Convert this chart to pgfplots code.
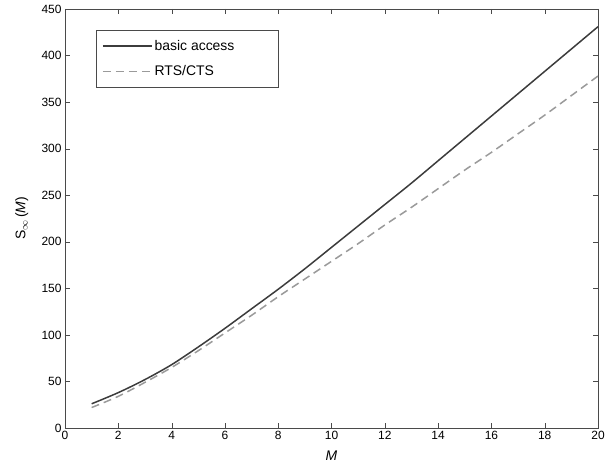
\documentclass[border=0pt]{standalone}
\usepackage{pgfplots}
\pgfplotsset{compat=1.18}
\usepackage{fontspec}
\setmainfont{Liberation Sans}
\definecolor{basic}{HTML}{3C3C3C}
\definecolor{rts}{HTML}{9A9A9A}
\definecolor{axc}{HTML}{4A4A4A}
\begin{document}
\begin{tikzpicture}
\begin{axis}[
  width=533bp, height=419bp, scale only axis,
  xmin=0, xmax=20, ymin=0, ymax=450,
  xtick={0,2,...,20}, ytick={0,50,...,450},
  tick align=inside, major tick length=5bp,
  axis line style={axc}, tick style={axc},
  tick label style={font=\fontsize{12}{14}\selectfont},
  label style={font=\fontsize{14}{16}\selectfont},
  /pgf/number format/assume math mode=true,
  xlabel={\textit{M}}, ylabel={S$_{\infty}$\,(\textit{M})},
  xlabel style={at={(axis description cs:0.5,-0.066)}, anchor=center},
  ylabel style={at={(axis description cs:-0.081,0.5)}, anchor=center},
  legend style={at={(0.058,0.95)}, anchor=north west, draw=axc, fill=white,
    font=\fontsize{14}{16}\selectfont, row sep=10bp, inner xsep=6bp, inner ysep=8bp},
  legend cell align=left,
  legend image code/.code={\draw[#1] (0bp,0bp) -- (49bp,0bp);},
]
\addplot[basic, line width=1.5bp, smooth] coordinates {
(1,26) (2,38) (3,52) (4,68) (5,87) (6,107) (7,128) (8,149) (9,171) (10,194)
(11,217) (12,240) (13,263) (14,287) (15,311) (16,335) (17,359) (18,383) (19,407) (20,431)
};
\addlegendentry{\makebox[116bp][l]{basic access}}
\addplot[rts, line width=1.5bp, dash pattern=on 8bp off 5bp, smooth] coordinates {
(1,22) (2,34) (3,49) (4,65) (5,83) (6,102) (7,121) (8,141) (9,160) (10,179)
(11,198) (12,218) (13,237) (14,257) (15,277) (16,296) (17,316) (18,336) (19,357) (20,378)
};
\addlegendentry{\makebox[116bp][l]{RTS/CTS}}
\coordinate (sw) at (rel axis cs:0,0);
\coordinate (ne) at (rel axis cs:1,1);
\end{axis}
\pgfresetboundingbox
\path ([shift={(-65bp,-35bp)}]sw) rectangle ([shift={(9bp,9bp)}]ne);
\end{tikzpicture}
\end{document}
